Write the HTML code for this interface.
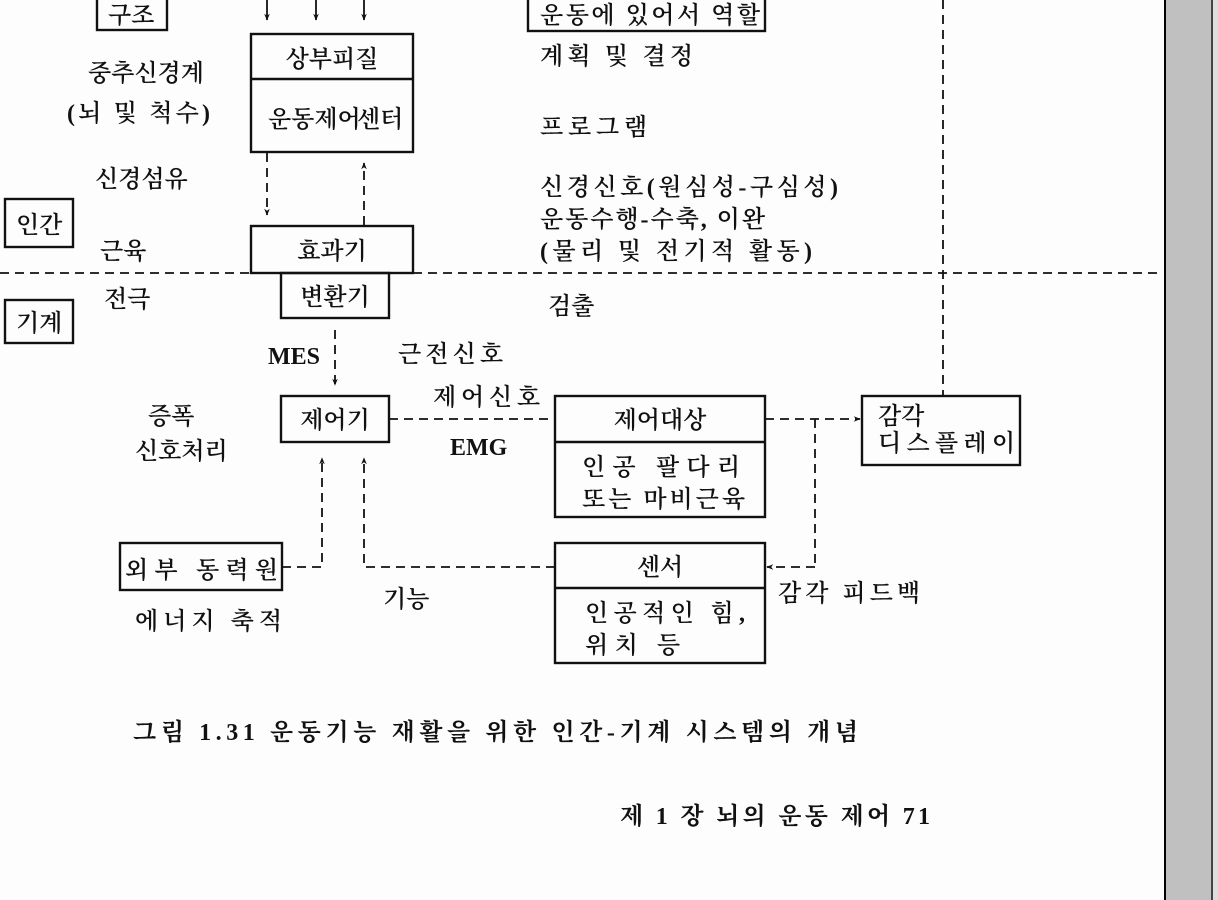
<!DOCTYPE html>
<html><head><meta charset="utf-8"><style>
html,body{margin:0;padding:0;background:#fdfdfd;}
svg{display:block}
text{font-family:"Liberation Serif","Noto Serif CJK SC","Noto Sans CJK KR",serif;font-size:24px;font-weight:600;fill:#111;}
</style></head><body>
<svg width="1218" height="900" viewBox="0 0 1218 900" xmlns="http://www.w3.org/2000/svg">
<defs><marker id="a" viewBox="0 0 10 10" refX="9" refY="5" markerWidth="7" markerHeight="9" orient="auto" markerUnits="userSpaceOnUse"><path d="M0,1 L10,5 L0,9 L3,5z" fill="#111"/></marker></defs>
<rect x="0" y="0" width="1218" height="900" fill="#fdfdfd"/>
<rect x="1164" y="0" width="48" height="900" fill="#c0c0c0"/>
<line x1="1165" y1="0" x2="1165" y2="900" stroke="#000" stroke-width="2"/>
<line x1="1212" y1="0" x2="1212" y2="900" stroke="#444" stroke-width="2"/>
<rect x="1213" y="0" width="5" height="900" fill="#ddd"/>
<g fill="none" stroke="#111" stroke-width="2.4">
<rect x="97" y="-5" width="70" height="35"/>
<rect x="528" y="-5" width="237" height="36"/>
<rect x="251" y="34" width="162" height="118"/><line x1="251" y1="79" x2="413" y2="79"/>
<rect x="5" y="199" width="68" height="48"/>
<rect x="251" y="226" width="162" height="47"/>
<rect x="281" y="273" width="108" height="45"/>
<rect x="5" y="300" width="68" height="43"/>
<rect x="281" y="396" width="108" height="46"/>
<rect x="555" y="396" width="210" height="121"/><line x1="555" y1="442" x2="765" y2="442"/>
<rect x="862" y="396" width="158" height="69"/>
<rect x="555" y="543" width="210" height="120"/><line x1="555" y1="588" x2="765" y2="588"/>
<rect x="120" y="543" width="162" height="47"/>
</g>
<g stroke="#111" stroke-width="1.8" fill="none">
<line x1="267" y1="0" x2="267" y2="20" marker-end="url(#a)"/>
<line x1="316" y1="0" x2="316" y2="20" marker-end="url(#a)"/>
<line x1="364" y1="0" x2="364" y2="20" marker-end="url(#a)"/>
</g>
<g stroke="#111" stroke-width="1.8" fill="none" stroke-dasharray="9,6">
<line x1="267" y1="153" x2="267" y2="215" marker-end="url(#a)"/>
<line x1="364" y1="225" x2="364" y2="163" marker-end="url(#a)"/>
<line x1="0" y1="273" x2="251" y2="273"/>
<line x1="413" y1="273" x2="1160" y2="273"/>
<line x1="943" y1="0" x2="943" y2="396"/>
<line x1="335" y1="330" x2="335" y2="385" marker-end="url(#a)"/>
<line x1="389" y1="419" x2="555" y2="419"/>
<line x1="765" y1="419" x2="860" y2="419" marker-end="url(#a)"/>
<line x1="815" y1="419" x2="815" y2="567"/>
<line x1="815" y1="567" x2="767" y2="567" marker-end="url(#a)"/>
<polyline points="555,567 364,567 364,458" marker-end="url(#a)"/>
<polyline points="282,567 322,567 322,458" marker-end="url(#a)"/>
</g>
<text x="108" y="23">구조</text>
<text x="540" y="23" textLength="220" lengthAdjust="spacing">운동에 있어서 역할</text>
<text x="332" y="67" text-anchor="middle">상부피질</text>
<text y="127"><tspan x="268">운동제어</tspan><tspan x="357">센터</tspan></text>
<text x="88" y="81">중추신경계</text>
<text x="67" y="121" textLength="143">(뇌 및 척수)</text>
<text x="540" y="64" textLength="153">계획 및 결정</text>
<text x="540" y="135" textLength="107">프로그램</text>
<text x="95" y="187">신경섬유</text>
<text x="16" y="233">인간</text>
<text x="100" y="259">근육</text>
<text x="332" y="259" text-anchor="middle">효과기</text>
<text x="540" y="195" textLength="298">신경신호(원심성-구심성)</text>
<text x="540" y="227" textLength="225">운동수행-수축, 이완</text>
<text x="540" y="259" textLength="272">(물리 및 전기적 활동)</text>
<text x="104" y="307">전극</text>
<text x="335" y="305" text-anchor="middle">변환기</text>
<text x="16" y="331">기계</text>
<text x="548" y="314">검출</text>
<text x="268" y="364">MES</text>
<text x="398" y="362" textLength="105">근전신호</text>
<text x="148" y="424">증폭</text>
<text x="135" y="459">신호처리</text>
<text x="335" y="428" text-anchor="middle">제어기</text>
<text x="433" y="405" textLength="107">제어신호</text>
<text x="450" y="455">EMG</text>
<text x="660" y="428" text-anchor="middle">제어대상</text>
<text x="582" y="475" textLength="158">인공 팔다리</text>
<text x="582" y="507" textLength="163">또는 마비근육</text>
<text x="878" y="424">감각</text>
<text x="878" y="451" textLength="137">디스플레이</text>
<text x="660" y="575" text-anchor="middle">센서</text>
<text x="585" y="621" textLength="160">인공적인 힘,</text>
<text x="585" y="653" textLength="95">위치 등</text>
<text x="778" y="601" textLength="142">감각 피드백</text>
<text x="125" y="578" textLength="153">외부 동력원</text>
<text x="135" y="629" textLength="147">에너지 축적</text>
<text x="383" y="607">기능</text>
<text x="133" y="740" textLength="725" lengthAdjust="spacing" style="font-weight:bold">그림 1.31  운동기능 재활을 위한 인간-기계 시스템의 개념</text>
<text x="620" y="824" textLength="310" lengthAdjust="spacing" style="font-weight:bold">제 1 장 뇌의 운동 제어   71</text>
</svg>
</body></html>
